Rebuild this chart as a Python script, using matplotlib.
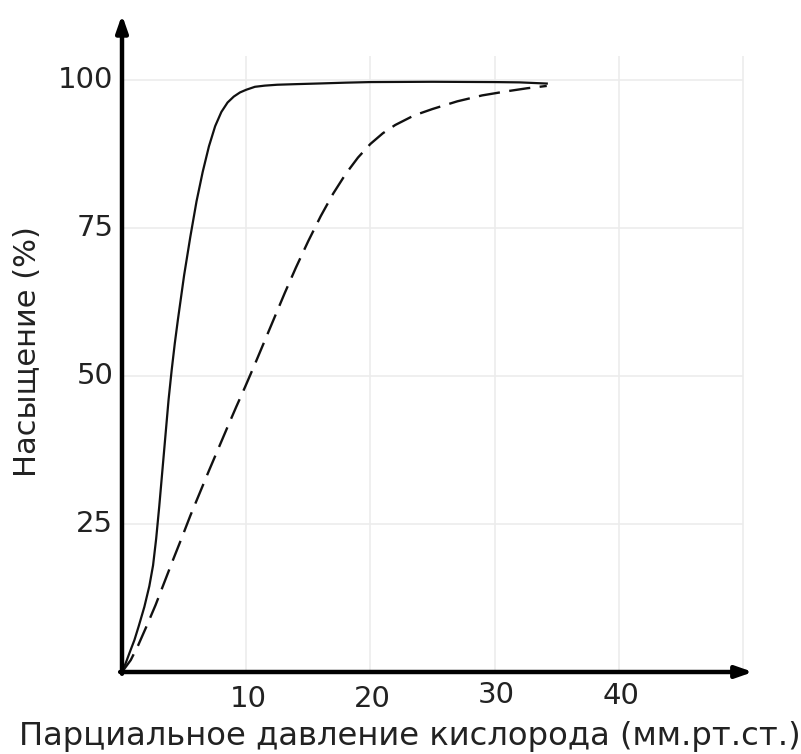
import matplotlib
matplotlib.use("Agg")
import matplotlib.pyplot as plt

plt.rcParams["font.family"] = ["DejaVu Sans"]

# кривые насыщения
solid_x = [0, 0.3, 0.6, 1.0, 1.34, 1.8, 2.2, 2.5, 2.75, 3.0, 3.25, 3.5, 3.75, 4.0,
           4.25, 4.5, 5.0, 5.5, 6.0, 6.5, 7.0, 7.5, 8.0, 8.5, 9.0, 9.5, 10.0, 10.7,
           11.5, 12.5, 14, 16, 18, 20, 25, 30, 32, 34.2]
solid_y = [0, 1.5, 3.2, 5.4, 7.7, 11, 14.5, 18, 22.5, 28, 34, 40, 46, 51,
           55.5, 59.5, 67, 73.5, 79.5, 84.5, 88.8, 92.2, 94.6, 96.2, 97.2, 97.9, 98.35, 98.85,
           99.05, 99.2, 99.3, 99.42, 99.55, 99.65, 99.7, 99.65, 99.6, 99.4]

dash_x = [0, 0.7, 1.3, 1.96, 2.7, 3.4, 4.1, 4.8, 5.5, 6.25, 7.0, 7.75, 8.5, 9.2, 9.9,
          10.7, 11.5, 12.3, 13.1, 14, 15, 16, 17, 18, 19, 20, 21, 22, 23.5,
          25, 27, 29, 31, 32.6, 34.2]
dash_y = [0, 2, 4.5, 7.65, 11.3, 15.1, 18.9, 22.6, 26.4, 30.2, 34, 37.7, 41.4, 44.8, 48.1,
          52, 56, 60, 64, 68.3, 72.8, 77, 80.8, 84.1, 86.9, 89.2, 91, 92.4, 94,
          95.1, 96.4, 97.4, 98.1, 98.6, 99.0]

x_ticks = [10, 20, 30, 40]
x_tick_dy = [0, 0, 0.7, 0.6]          # "30" и "40" чуть выше
y_ticks = [25, 50, 75, 100]
grid_x = [10, 20, 30, 40, 50]
grid_y = [25, 50, 75, 100]

fig = plt.figure(figsize=(8.01, 7.54), dpi=100)
ax = fig.add_axes([122 / 801, 82 / 754, 51.5 * 12.42 / 801, 112 * 5.92 / 754])
ax.set_xlim(0, 51.5)
ax.set_ylim(0, 112)
ax.axis("off")

# сетка
ax.vlines(grid_x, 0, 104, color="#ececec", lw=1.2, zorder=0)
ax.hlines(grid_y, 0, 50, color="#ececec", lw=1.2, zorder=0)

ax.plot(solid_x, solid_y, color="#111111", lw=1.6, solid_joinstyle="round", zorder=3)
ax.plot(dash_x, dash_y, color="#111111", lw=1.7, dashes=(9, 4),
        dash_joinstyle="round", zorder=3)

# оси со стрелками
arrow = dict(arrowstyle="-|>,head_length=1.0,head_width=0.35", color="black", lw=3.2,
             shrinkA=0, shrinkB=0)
ax.annotate("", xy=(50.8, 0), xytext=(-0.15, 0), arrowprops=arrow, annotation_clip=False)
ax.annotate("", xy=(0, 111), xytext=(0, -0.3), arrowprops=arrow, annotation_clip=False)

for v, dy in zip(x_ticks, x_tick_dy):
    ax.text(v + 0.15, -4.6 + dy, str(v), ha="center", va="center", fontsize=21, color="#222222")
for v in y_ticks:
    ax.text(-0.7, v, str(v), ha="right", va="center", fontsize=21, color="#222222")

fig.text(410 / 801, 1 - 736 / 754, "Парциальное давление кислорода (мм.рт.ст.)",
         ha="center", va="center", fontsize=23.2, color="#222222")
fig.text(28 / 801, 1 - 352 / 754, "Насыщение (%)", rotation=90,
         ha="center", va="center", fontsize=22, color="#222222")

fig.savefig("out.png", dpi=100)
plt.close(fig)
